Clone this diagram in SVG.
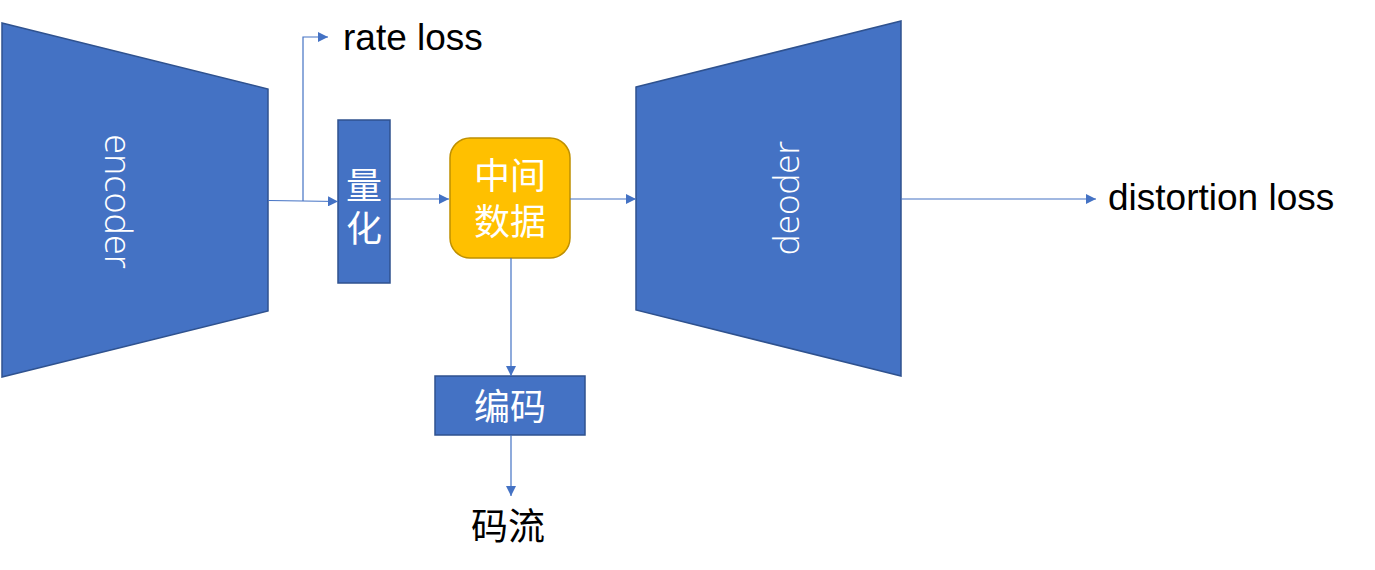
<svg xmlns="http://www.w3.org/2000/svg" width="1375" height="570" viewBox="0 0 1375 570">
<style>
.blk{fill:#4472C4;stroke:#2F528F;stroke-width:1.5}
.wt{fill:#fff;font-family:"Liberation Sans","Noto Sans CJK SC",sans-serif;text-anchor:middle}
.rot{fill:#fff;font-family:"Open Sans","Liberation Sans",sans-serif;font-weight:300;text-anchor:middle}
.lbl{fill:#000;font-family:"Liberation Sans","Noto Sans CJK SC",sans-serif}
.ln{fill:none;stroke:#4472C4;stroke-width:1.2}
</style>
<defs>
<marker id="ah" markerWidth="10" markerHeight="10" refX="10" refY="5" orient="auto" markerUnits="userSpaceOnUse">
<path d="M0,0 L10,5 L0,10 Z" fill="#4472C4"/>
</marker>
</defs>
<rect width="1375" height="570" fill="#fff"/>
<g id="encoder">
<polygon class="blk" points="2,23 268,89 268,311 2,377"/>
<text class="rot" transform="translate(105,201.5) rotate(90)" font-size="36">encoder</text>
</g>
<g id="quant">
<rect class="blk" x="338" y="120" width="52" height="163"/>
<text class="wt" font-size="36"><tspan x="364" y="199">量</tspan><tspan x="364" y="242">化</tspan></text>
</g>
<g id="middata">
<rect x="450" y="138" width="120" height="120" rx="20" ry="20" fill="#FFC000" stroke="#BF9000" stroke-width="1.5"/>
<text class="wt" font-size="36"><tspan x="510" y="189">中间</tspan><tspan x="510" y="235">数据</tspan></text>
</g>
<g id="decoder">
<polygon class="blk" points="636,87 901,21 901,376 636,310"/>
<text class="rot" transform="translate(799,198) rotate(-90)" font-size="35">deoder</text>
</g>
<g id="encode">
<rect class="blk" x="435" y="376" width="150" height="59"/>
<text class="wt" x="510" y="420" font-size="36">编码</text>
</g>
<g id="labels">
<text class="lbl" x="343" y="50" font-size="37">rate loss</text>
<text class="lbl" x="1108" y="210" font-size="37">distortion loss</text>
<text class="lbl" x="508" y="540" font-size="37" text-anchor="middle">码流</text>
</g>
<g id="connectors">
<path class="ln" d="M268,200.5 L338,201.5" marker-end="url(#ah)"/>
<path class="ln" d="M303,201 L303,37 L328,37" marker-end="url(#ah)"/>
<path class="ln" d="M390,199 L449,199" marker-end="url(#ah)"/>
<path class="ln" d="M570,199 L636,199" marker-end="url(#ah)"/>
<path class="ln" d="M901,199 L1096,199" marker-end="url(#ah)"/>
<path class="ln" d="M511,258 L511,376" marker-end="url(#ah)"/>
<path class="ln" d="M511,435 L511,496" marker-end="url(#ah)"/>
</g>
</svg>
